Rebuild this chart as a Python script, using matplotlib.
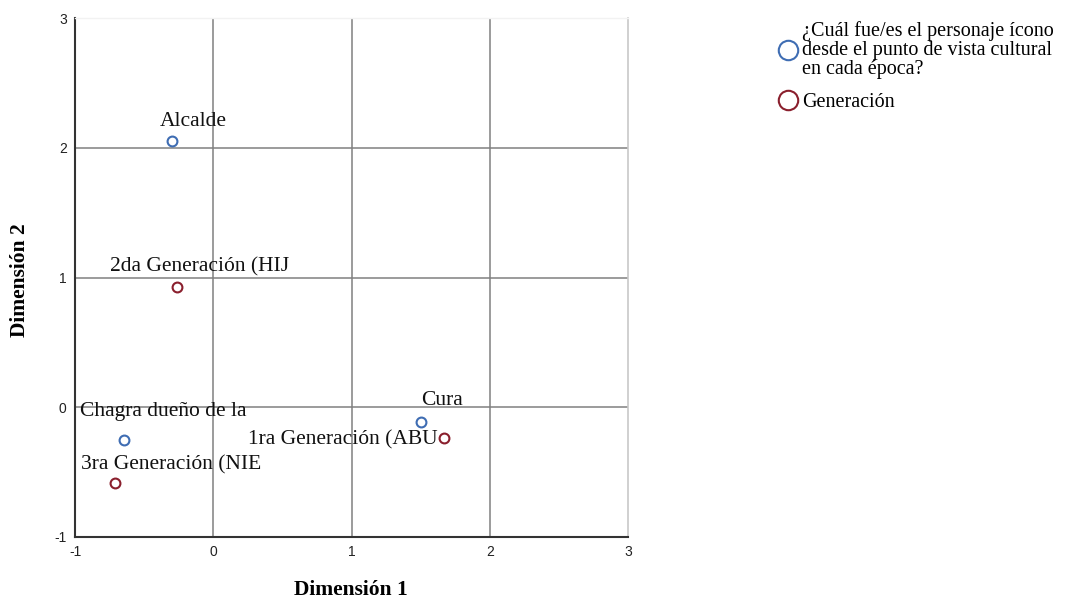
import matplotlib
matplotlib.use("Agg")
import matplotlib.pyplot as plt
from matplotlib.lines import Line2D

# Data
cultural_labels = ["Alcalde", "Cura", "Chagra dueño de la"]
cultural_x = [-0.30, 1.50, -0.645]
cultural_y = [2.05, -0.11, -0.25]

gen_labels = ["2da Generación (HIJ", "1ra Generación (ABU", "3ra Generación (NIE"]
gen_x = [-0.26, 1.67, -0.71]
gen_y = [0.93, -0.24, -0.58]

legend_labels = ["¿Cuál fue/es el personaje ícono\ndesde el punto de vista cultural\nen cada época?",
                 "Generación"]
x_ticks = [-1, 0, 1, 2, 3]
y_ticks = [-1, 0, 1, 2, 3]

# label offsets (pixels) - style
cultural_off = [(22, 20), (21, 21), (39, 28)]
gen_off = [(22, 20), (-101, -1), (56, 18)]

BLUE = "#3f6db3"
RED = "#8a1f2d"
SERIF = ["Liberation Serif", "DejaVu Serif"]
SANS = ["Liberation Sans", "DejaVu Sans"]

fig = plt.figure(figsize=(10.8, 6.01), dpi=100)
ax = fig.add_axes([75/1080, 1-537/601, (628-75)/1080, (537-18)/601])

ax.set_xlim(-1, 3)
ax.set_ylim(-1, 3)
ax.set_xticks(x_ticks)
ax.set_yticks(y_ticks)
ax.set_xticklabels([str(t) for t in x_ticks], fontfamily=SANS, fontsize=10, color="#222222")
ax.set_yticklabels([str(t) for t in y_ticks], fontfamily=SANS, fontsize=10, color="#222222")
ax.tick_params(length=0, pad=6)

for v in x_ticks[1:-1]:
    ax.axvline(v, color="#808080", lw=1.1, zorder=1)
for v in y_ticks[1:-1]:
    ax.axhline(v, color="#808080", lw=1.1, zorder=1)

for s in ["left", "bottom"]:
    ax.spines[s].set_color("#333333")
    ax.spines[s].set_linewidth(1.5)
ax.spines["right"].set_color("#c8c8c8")
ax.spines["right"].set_linewidth(1.2)
ax.spines["top"].set_color("#f2f2f2")
ax.spines["top"].set_linewidth(1.0)

ax.scatter(cultural_x, cultural_y, s=50, facecolors="white", edgecolors=BLUE, linewidths=1.5, zorder=3)
ax.scatter(gen_x, gen_y, s=50, facecolors="white", edgecolors=RED, linewidths=1.5, zorder=3)

for lbl, x, y, off in zip(cultural_labels, cultural_x, cultural_y, cultural_off):
    ax.annotate(lbl, (x, y), xytext=off, textcoords="offset pixels", ha="center", va="center",
                fontfamily=SERIF, fontsize=15.5, color="#111111", zorder=4)
for lbl, x, y, off in zip(gen_labels, gen_x, gen_y, gen_off):
    ax.annotate(lbl, (x, y), xytext=off, textcoords="offset pixels", ha="center", va="center",
                fontfamily=SERIF, fontsize=15.5, color="#111111", zorder=4)

ax.set_xlabel("Dimensión 1", fontfamily=SERIF, fontsize=15.5, fontweight="bold")
ax.set_ylabel("Dimensión 2", fontfamily=SERIF, fontsize=15.5, fontweight="bold")
ax.xaxis.set_label_coords((351 - 75) / 553, -(590 - 537) / 519)
ax.yaxis.set_label_coords(-(75 - 20) / 553, (537 - 280) / 519)
ax.xaxis.label.set_va("center")
ax.yaxis.label.set_va("center")

handles = [Line2D([], [], marker="o", ls="none", markersize=14, markerfacecolor="white",
                  markeredgecolor=BLUE, markeredgewidth=1.5),
           Line2D([], [], marker="o", ls="none", markersize=14, markerfacecolor="white",
                  markeredgecolor=RED, markeredgewidth=1.5)]
leg = fig.legend(handles, legend_labels, loc="upper left", bbox_to_anchor=(779/1080, 1-21/601),
                 frameon=False, prop={"family": SERIF, "size": 14.5}, handlelength=0.9,
                 handletextpad=0.25, borderaxespad=0, borderpad=0, labelspacing=0.65)
for t in leg.get_texts():
    t.set_linespacing(1.02)

fig.savefig("out.png", dpi=100)
